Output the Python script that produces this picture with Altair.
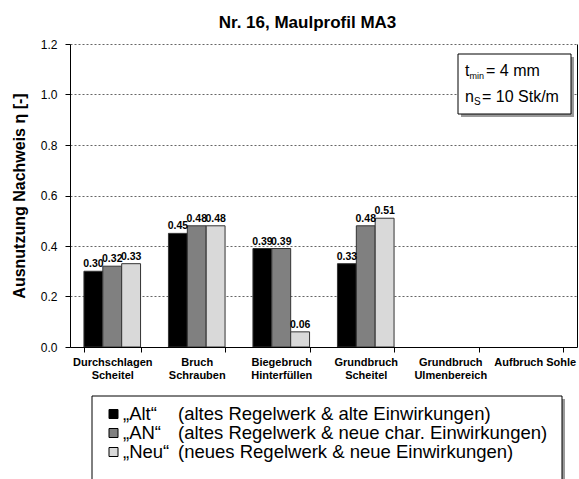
import altair as alt
import pandas as pd

# Categories (line break marks a two-line axis label)
categories = [
    "Durchschlagen\nScheitel",
    "Bruch\nSchrauben",
    "Biegebruch\nHinterfüllen",
    "Grundbruch\nScheitel",
    "Grundbruch\nUlmenbereich",
    "Aufbruch Sohle",
]

# Series and their descriptions
series = ["„Alt“", "„AN“", "„Neu“"]
descriptions = [
    "(altes Regelwerk & alte Einwirkungen)",
    "(altes Regelwerk & neue char. Einwirkungen)",
    "(neues Regelwerk & neue Einwirkungen)",
]
colors = ["#000000", "#808080", "#d9d9d9"]

# Utilisation values per series (None = not evaluated)
alt_values = [0.30, 0.45, 0.39, 0.33, None, None]
an_values = [0.32, 0.48, 0.39, 0.48, None, None]
neu_values = [0.33, 0.48, 0.06, 0.51, None, None]

# Parameters shown in the info box
t_min_mm = 4
n_s_per_m = 10

y_ticks = [0.0, 0.2, 0.4, 0.6, 0.8, 1.0, 1.2]

rows = []
for name, vals in zip(series, [alt_values, an_values, neu_values]):
    for cat, v in zip(categories, vals):
        if v is not None:
            rows.append({"Kategorie": cat, "Reihe": name, "Wert": v})
df = pd.DataFrame(rows)
legend_df = pd.DataFrame({"Reihe": series, "Beschreibung": descriptions})

W, H = 507, 303
FONT = "Liberation Sans"

x_scale = alt.Scale(domain=categories, paddingInner=0.33, paddingOuter=0.165)
x_enc = alt.X(
    "Kategorie:N",
    sort=categories,
    scale=x_scale,
    axis=alt.Axis(
        title=None,
        labelAngle=0,
        labelExpr="datum.value ? split(datum.value, '\\n') : ''",
        labelFontWeight="bold",
        labelFontSize=11,
        labelLineHeight=13,
        labelBaseline="top",
        labelPadding=4,
        labelColor="black",
        tickBand="extent",
        tickSize=5,
        tickColor="black",
        domainColor="black",
        grid=False,
        zindex=1,
    ),
)
xoff_enc = alt.XOffset("Reihe:N", sort=series, scale=alt.Scale(domain=series))
color_scale = alt.Scale(domain=series, range=colors)
y_scale = alt.Scale(domain=[0, 1.2], nice=False)

bars = alt.Chart(df).mark_bar(stroke="#333333", strokeWidth=1).encode(
    x=x_enc,
    xOffset=xoff_enc,
    y=alt.Y(
        "Wert:Q",
        scale=y_scale,
        axis=alt.Axis(
            values=y_ticks,
            format=".1f",
            labelFontSize=12,
            labelColor="black",
            labelPadding=8,
            tickSize=5,
            tickColor="black",
            domainColor="black",
            gridColor="#666666",
            gridDash=[2, 2],
            gridWidth=1,
            title="Ausnutzung Nachweis η [-]",
            titleFontSize=16,
            titleFontWeight="bold",
            titleColor="black",
            titleAngle=270,
            titleX=-51,
            titleY=H / 2,
            titleAlign="center",
            titleBaseline="middle",
        ),
    ),
    color=alt.Color("Reihe:N", scale=color_scale, legend=None),
)

# Value labels above the bars; this layer also carries the right-hand frame line
labels = alt.Chart(df).mark_text(
    dy=-4, baseline="alphabetic", fontSize=10.5, fontWeight="bold", color="black"
).encode(
    x=alt.X("Kategorie:N", sort=categories, scale=x_scale),
    xOffset=xoff_enc,
    y=alt.Y(
        "Wert:Q",
        scale=y_scale,
        axis=alt.Axis(orient="right", labels=False, ticks=False, grid=False,
                      domainColor="black", title=None),
    ),
    text=alt.Text("Wert:Q", format=".2f"),
)

one = alt.Data(values=[{}])

# Info box (top right)
box_shadow = alt.Chart(one).mark_rect(fill="#9a9a9a").encode(
    x=alt.value(391), x2=alt.value(504), y=alt.value(13), y2=alt.value(73))
box = alt.Chart(one).mark_rect(fill="white", stroke="black", strokeWidth=1).encode(
    x=alt.value(388), x2=alt.value(501), y=alt.value(10), y2=alt.value(70))


def txt(s, x, y, size):
    return alt.Chart(one).mark_text(
        text=s, align="left", baseline="alphabetic", fontSize=size, color="black"
    ).encode(x=alt.value(x), y=alt.value(y))


box_texts = [
    txt("t", 395, 32, 16),
    txt("min", 399.5, 35, 9),
    txt(f"= {t_min_mm} mm", 416, 32, 16),
    txt("n", 395, 58, 16),
    txt("S", 404, 61, 10),
    txt(f"= {n_s_per_m} Stk/m", 412, 58, 16),
]

# Legend below the chart
leg_y = alt.Y("Reihe:N", sort=series,
              scale=alt.Scale(domain=series, range=[370, 408], padding=0), axis=None)
leg_shadow = alt.Chart(one).mark_rect(fill="#9a9a9a").encode(
    x=alt.value(25), x2=alt.value(495), y=alt.value(355), y2=alt.value(445))
leg_box = alt.Chart(one).mark_rect(fill="white", stroke="black", strokeWidth=1).encode(
    x=alt.value(22), x2=alt.value(492), y=alt.value(352), y2=alt.value(442))
leg_squares = alt.Chart(legend_df).mark_square(
    size=81, stroke="black", strokeWidth=1, opacity=1
).encode(
    x=alt.value(43.5), y=leg_y,
    color=alt.Color("Reihe:N", scale=color_scale, legend=None),
)
leg_names = alt.Chart(legend_df).mark_text(
    align="left", baseline="middle", fontSize=18.5, color="black"
).encode(x=alt.value(53), y=leg_y, text="Reihe:N")
leg_desc = alt.Chart(legend_df).mark_text(
    align="left", baseline="middle", fontSize=18.5, color="black"
).encode(x=alt.value(108), y=leg_y, text="Beschreibung:N")

chart = alt.layer(
    bars, labels, box_shadow, box, *box_texts,
    leg_shadow, leg_box, leg_squares, leg_names, leg_desc,
).resolve_scale(
    y="independent"
).properties(
    width=W,
    height=H,
    autosize=alt.AutoSizeParams(type="none"),
    padding={"left": 70, "top": 44, "right": 2, "bottom": 135},
    title=alt.TitleParams(
        "Nr. 16, Maulprofil MA3",
        fontSize=17,
        fontWeight="bold",
        anchor="middle",
        frame="group",
        baseline="alphabetic",
        offset=16,
        dx=-16,
        dy=23,
        color="black",
    ),
).configure(
    font=FONT
).configure_view(
    stroke=None
)

chart.save("out.html", embed_options={"renderer": "svg", "actions": False})
